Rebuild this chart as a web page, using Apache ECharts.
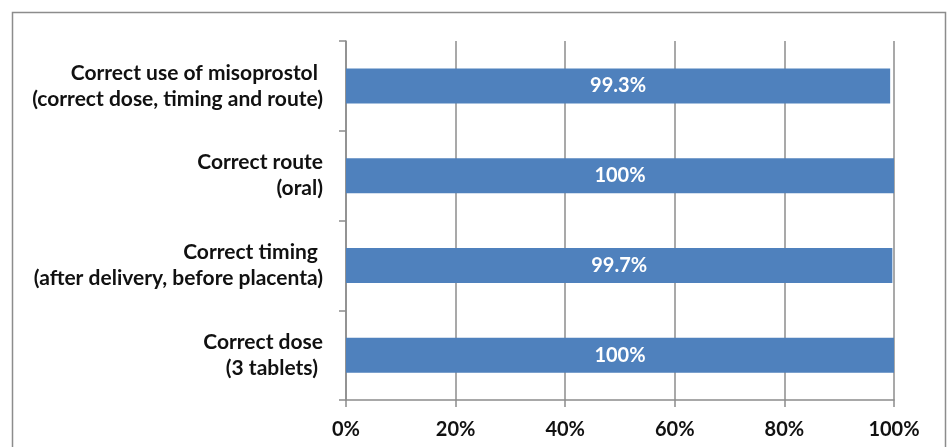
<!DOCTYPE html>
<html>
<head>
<meta charset="utf-8">
<script src="https://cdn.jsdelivr.net/npm/echarts@6/dist/echarts.min.js"></script>
<style>html,body{margin:0;padding:0;background:#fff}#c{width:952px;height:447px}</style>
</head>
<body>
<div id="c"></div>
<script>
const categories = [
  "Correct dose\n(3 tablets) ",
  "Correct timing \n(after delivery, before placenta)",
  "Correct route\n(oral)",
  "Correct use of misoprostol \n(correct dose, timing and route)"
];
const values = [100, 99.7, 100, 99.3];
const xTicks = [0, 20, 40, 60, 80, 100];

const chart = echarts.init(document.getElementById('c'), null, {renderer: 'canvas'});
const font = 'Lato, "Open Sans", sans-serif';
chart.setOption({
  animation: false,
  backgroundColor: '#fff',
  graphic: [{
    type: 'rect',
    shape: {x: 12.5, y: 12.5, width: 933, height: 460},
    style: {fill: 'none', stroke: '#8c8c8c', lineWidth: 1.5},
    silent: true
  }],
  grid: {left: 346, right: 58, top: 41, bottom: 47, containLabel: false},
  xAxis: {
    type: 'value', min: xTicks[0], max: xTicks[xTicks.length - 1], interval: 20,
    axisLine: {show: true, lineStyle: {color: '#8c8c8c', width: 1.5}},
    axisTick: {show: true, length: 7, lineStyle: {color: '#8c8c8c', width: 1.5}},
    splitLine: {show: true, lineStyle: {color: '#8c8c8c', width: 1.5}},
    axisLabel: {formatter: '{value}%', color: '#111', fontFamily: font, fontWeight: 'bold', fontSize: 20, margin: 20}
  },
  yAxis: {
    type: 'category', data: categories,
    axisLine: {show: true, lineStyle: {color: '#8c8c8c', width: 1.5}},
    axisTick: {show: true, length: 7, lineStyle: {color: '#8c8c8c', width: 1.5}},
    axisLabel: {color: '#111', fontFamily: font, fontWeight: 'bold', fontSize: 21, lineHeight: 26, margin: 23, align: 'right'}
  },
  series: [{
    type: 'bar', data: values, barWidth: 35,
    itemStyle: {color: '#4F81BD'},
    label: {show: true, position: 'inside', formatter: p => p.value + '%', color: '#fff', fontFamily: font, fontWeight: 'bold', fontSize: 20}
  }]
});
</script>
</body>
</html>
